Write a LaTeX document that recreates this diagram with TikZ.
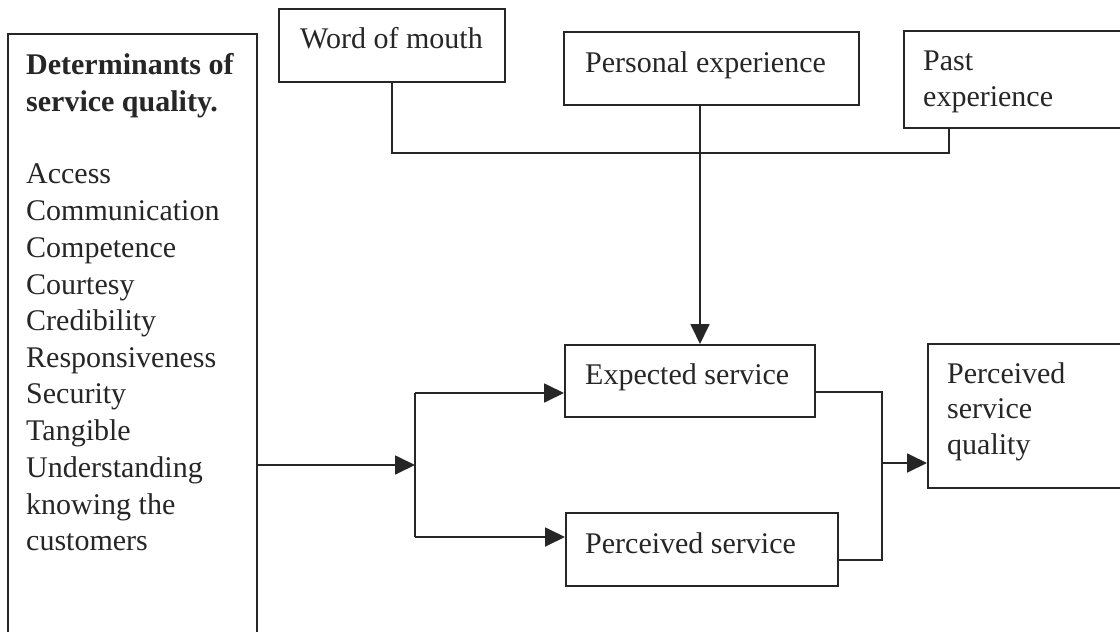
\documentclass[tikz,border=0pt]{standalone}
\usepackage{fontspec}
\setmainfont{Liberation Serif}
\usetikzlibrary{arrows.meta,calc}
\begin{document}
\begin{tikzpicture}[x=1pt,y=-1pt,
  box/.style={draw=black!85,line width=1.8pt,rectangle,inner sep=0pt,anchor=north west},
  txt/.style={anchor=base west,inner sep=0pt,text=black!85,font=\fontsize{30}{37}\selectfont},
  wire/.style={draw=black!85,line width=1.8pt},
  arr/.style={wire,-{Triangle[length=20pt,width=19pt]}}]
\useasboundingbox (0,0) rectangle (1120,632);
\clip (0,0) rectangle (1120,632);
\fill[white] (0,0) rectangle (1120,632);
% boxes
\node[box,minimum width=249pt,minimum height=640pt] (det) at (7,33) {};
\node[box,minimum width=226pt,minimum height=73pt] (wom) at (278,8) {};
\node[box,minimum width=295pt,minimum height=73pt] (pe) at (563,31) {};
\node[box,minimum width=230pt,minimum height=97pt] (past) at (903,30) {};
\node[box,minimum width=250pt,minimum height=72pt] (es) at (564,344) {};
\node[box,minimum width=272pt,minimum height=73pt] (ps) at (565,512) {};
\node[box,minimum width=210pt,minimum height=144pt] (psq) at (927,343) {};
% texts
\node[txt,font=\fontsize{30}{37}\selectfont\bfseries] (t1) at (26,74) {Determinants of};
\node[txt,font=\fontsize{30}{37}\selectfont\bfseries] (t2) at (26,111) {service quality.};
\node[txt] (l1) at (26,183) {Access};
\node[txt] (l2) at (26,220) {Communication};
\node[txt] (l3) at (26,257) {Competence};
\node[txt] (l4) at (26,294) {Courtesy};
\node[txt] (l5) at (26,330) {Credibility};
\node[txt] (l6) at (26,367) {Responsiveness};
\node[txt] (l7) at (26,403) {Security};
\node[txt] (l8) at (26,440) {Tangible};
\node[txt] (l9) at (26,477) {Understanding};
\node[txt] (l10) at (26,514) {knowing the};
\node[txt] (l11) at (26,550) {customers};
\node[txt] (twom) at (300,48) {Word of mouth};
\node[txt] (tpe) at (585,72) {Personal experience};
\node[txt] (tpa1) at (923,70) {Past};
\node[txt] (tpa2) at (923,106) {experience};
\node[txt] (tes) at (585,384) {Expected service};
\node[txt] (tps) at (585,553) {Perceived service};
\node[txt] (tq1) at (947,383) {Perceived};
\node[txt] (tq2) at (947,418) {service};
\node[txt] (tq3) at (947,454) {quality};
% coordinates
\coordinate (bus) at (0,153);
\coordinate (pastx) at (949,0);
\coordinate (tap) at (700,0);
\coordinate (split) at (415,465);
\coordinate (esin) at (0,393);
\coordinate (psin) at (0,537);
\coordinate (esout) at (0,392);
\coordinate (psout) at (0,560);
\coordinate (merge) at (882,463);
% top connectors
\draw[wire] (wom.south) |- (bus -| pastx) -- (past.south -| pastx);
\draw[arr] (pe.south -| tap) -- (es.north -| tap);
% left connectors
\draw[arr] (det.east |- split) -- (split);
\draw[arr] (split |- esin) -- (es.west |- esin);
\draw[arr] (split |- psin) -- (ps.west |- psin);
\draw[wire] (split |- esin) -- (split |- psin);
% right connectors
\draw[wire] (es.east |- esout) -| (merge |- psout) -- (ps.east |- psout);
\draw[arr] (merge) -- (psq.west |- merge);
\end{tikzpicture}
\end{document}
